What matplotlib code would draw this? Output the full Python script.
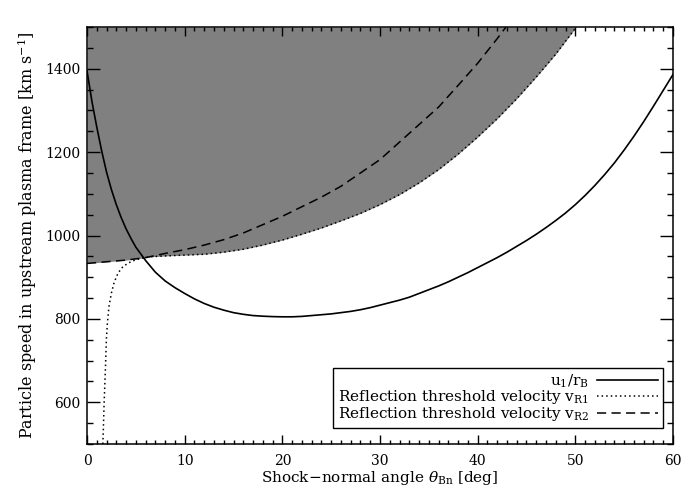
import matplotlib
matplotlib.use("Agg")
import matplotlib.pyplot as plt
from matplotlib.ticker import MultipleLocator

plt.rcParams['font.family'] = ['DejaVu Serif']
plt.rcParams['mathtext.fontset'] = 'dejavuserif'

# u1/rB (solid)
ang_u = [0, 0.5, 1, 1.5, 2, 2.5, 3, 3.5, 4, 4.5, 5, 6, 7, 8, 9, 10, 11, 12, 13, 14,
         15, 16, 17, 18, 19, 20, 21, 22, 23, 24, 25, 26, 27, 28, 29, 30, 31, 32, 33,
         34, 35, 36, 37, 38, 39, 40, 41, 42, 43, 44, 45, 46, 47, 48, 49, 50, 51, 52,
         53, 54, 55, 56, 57, 58, 59, 60]
u_rb = [1395, 1322, 1260, 1203, 1152, 1110, 1074, 1043, 1016, 993, 972, 940, 912, 891,
        875, 861, 848, 837, 828, 821, 815, 811, 808, 806.5, 805.5, 805, 805, 806, 808,
        810, 812, 815, 818, 822, 827, 833, 839, 845, 852, 861, 870, 879, 889, 900, 911,
        923, 935, 947, 960, 974, 988, 1003, 1019, 1036, 1054, 1074, 1096, 1120, 1146,
        1174, 1205, 1238, 1273, 1310, 1348, 1386]

# reflection threshold velocity vR1 (dotted)
ang_r1 = [1.62, 1.68, 1.74, 1.82, 1.9, 1.98, 2.09, 2.25, 2.5, 2.77, 3.18, 3.7, 4.54,
          5.5, 6.5, 8, 10, 12, 14, 16, 18, 20, 22, 24, 26, 28, 30, 32, 34, 36, 38, 40,
          42, 44, 46, 48, 50.1]
v_r1 = [500, 540, 590, 640, 690, 750, 791, 830, 862, 887, 910, 926, 938, 945, 949, 951,
        953, 955, 960, 967, 977, 989, 1003, 1018, 1035, 1053, 1074, 1098, 1126, 1158,
        1195, 1236, 1280, 1328, 1380, 1435, 1500]

# reflection threshold velocity vR2 (dashed)
ang_r2 = [0, 2, 4, 6, 8, 10, 12, 14, 16, 18, 20, 22, 24, 26, 28, 30, 32, 34, 36, 38,
          40, 42, 42.9]
v_r2 = [933, 937, 941, 947, 957, 966, 977, 990, 1006, 1026, 1046, 1069, 1092, 1118,
        1150, 1182, 1224, 1266, 1308, 1360, 1413, 1472, 1500]

# lower edge of the shaded region: vR2 up to ~6 deg, then vR1
shade_x = [a for a in ang_r2 if a <= 6] + [a for a in ang_r1 if a > 6]
shade_lo = [v for a, v in zip(ang_r2, v_r2) if a <= 6] + \
           [v for a, v in zip(ang_r1, v_r1) if a > 6]

fig = plt.figure(figsize=(7, 5), dpi=100)
ax = fig.add_axes([0.1243, 0.112, 0.8371, 0.834])

ax.fill_between(shade_x, shade_lo, 1500, color='#808080', lw=0, zorder=1)
ax.plot(ang_u, u_rb, color='black', lw=1.2, label=r'u$_1$/r$_{\rm B}$', zorder=3)
ax.plot(ang_r1, v_r1, color='black', lw=1.1, ls=(0, (1, 2)),
        label=r'Reflection threshold velocity v$_{\rm R1}$', zorder=3)
ax.plot(ang_r2, v_r2, color='black', lw=1.1, ls=(0, (6, 3.5)),
        label=r'Reflection threshold velocity v$_{\rm R2}$', zorder=3)

ax.set_xlim(0, 60)
ax.set_ylim(500, 1500)
ax.xaxis.set_major_locator(MultipleLocator(10))
ax.xaxis.set_minor_locator(MultipleLocator(1))
ax.yaxis.set_major_locator(MultipleLocator(200))
ax.yaxis.set_minor_locator(MultipleLocator(50))
ax.set_yticks([600, 800, 1000, 1200, 1400])
ax.tick_params(which='both', direction='in', top=True, right=True, width=1)
ax.tick_params(axis='x', which='major', length=6.7, pad=7, labelsize=10)
ax.tick_params(axis='x', which='minor', length=3.1)
ax.tick_params(axis='y', which='major', length=9.1, pad=4.5, labelsize=10)
ax.tick_params(axis='y', which='minor', length=4.3)
for s in ax.spines.values():
    s.set_linewidth(1.1)

ax.set_xlabel(r'Shock$-$normal angle $\theta_{\rm Bn}$ [deg]', fontsize=11, labelpad=1)
ax.set_ylabel(r'Particle speed in upstream plasma frame [km s$^{-1}$]', fontsize=11.5, labelpad=5)

leg = ax.legend(loc='lower right', bbox_to_anchor=(0.983, 0.039), borderaxespad=0,
                markerfirst=False, fontsize=11, frameon=True, fancybox=False,
                framealpha=1, edgecolor='black', handlelength=4.0,
                handletextpad=0.55, labelspacing=-0.08, borderpad=0.3)
leg.get_frame().set_linewidth(1.0)

fig.savefig('out.png', dpi=100)
